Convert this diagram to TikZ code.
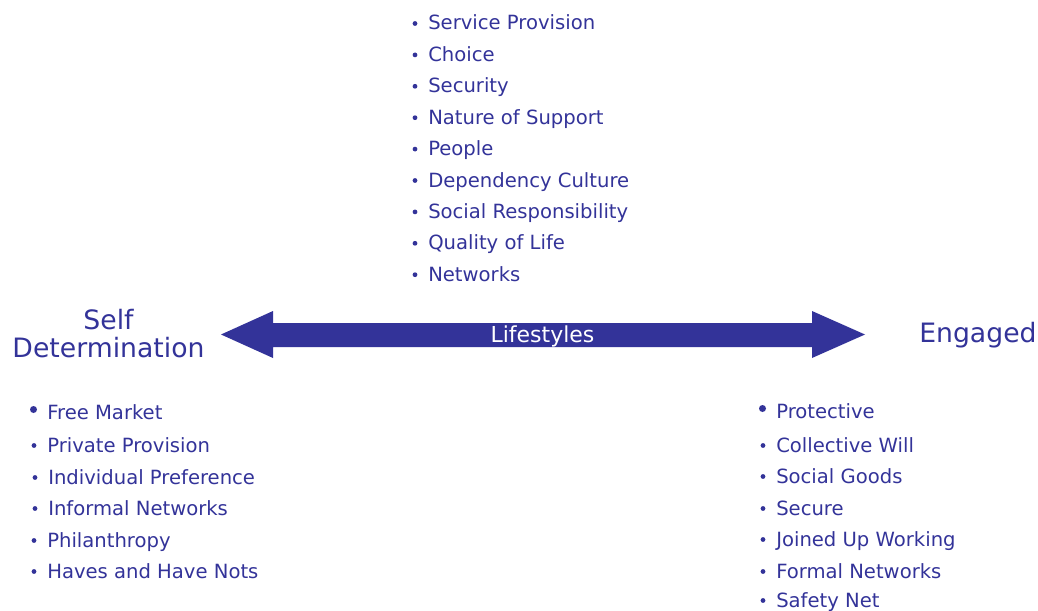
\documentclass[tikz,border=0pt]{standalone}
\usepackage{fontspec}
\setmainfont{DejaVu Sans}
\definecolor{ink}{RGB}{51,51,153}
% one unit = one pixel of a 1038 x 610 canvas, y pointing down
\tikzset{
  every picture/.style={x=0.75pt,y=-0.75pt},
  itemtxt/.style={anchor=base west,inner sep=0pt,text=ink,font=\fontsize{14.7pt}{17pt}\selectfont},
  biglabel/.style={inner sep=0pt,text=ink,font=\fontsize{20pt}{21pt}\selectfont},
  arrowlabel/.style={inner sep=0pt,text=white,font=\fontsize{16.5pt}{18pt}\selectfont},
}
% list entry with small round bullet
\newcommand\lsitem[3]{%
  \node[itemtxt] (#1) at (#2) {#3};
  \fill[ink] (#1.base west) ++(-13,-6.5) circle (2.4);}
% first entry of a lower list, larger bullet set higher
\newcommand\lsfirst[3]{%
  \node[itemtxt] (#1) at (#2) {#3};
  \fill[ink] (#1.base west) ++(-13.5,-9.5) circle (3.5);}
\begin{document}
\begin{tikzpicture}
\useasboundingbox (0,0) rectangle (1038,610);
\clip (0,0) rectangle (1038,610);

% top list
\lsitem{t1}{428,30}{Service Provision}
\lsitem{t2}{428,61.4}{Choice}
\lsitem{t3}{428,92.8}{Security}
\lsitem{t4}{428,124.2}{Nature of Support}
\lsitem{t5}{428,155.6}{People}
\lsitem{t6}{428,187}{Dependency Culture}
\lsitem{t7}{428,218.4}{Social Responsibility}
\lsitem{t8}{428,249.8}{Quality of Life}
\lsitem{t9}{428,281.2}{Networks}

% double headed arrow
\fill[ink] (221,334.5) -- (273,311) -- (273,323) -- (812,323) -- (812,311)
  -- (865,334.5) -- (812,358) -- (812,347) -- (273,347) -- (273,358) -- cycle;
\node[arrowlabel,anchor=base] (life) at (542.5,342) {Lifestyles};

% end labels
\node[biglabel,anchor=base] (self) at (108.5,329) {Self};
\node[biglabel,anchor=base] (det) at (108.5,357) {Determination};
\node[biglabel,anchor=base west] (eng) at (919,342) {Engaged};

% lower left list
\lsfirst{l1}{47,419}{Free Market}
\lsitem{l2}{47,452}{Private Provision}
\lsitem{l3}{48,484}{Individual Preference}
\lsitem{l4}{48,515}{Informal Networks}
\lsitem{l5}{47,547}{Philanthropy}
\lsitem{l6}{47,578}{Haves and Have Nots}

% lower right list
\lsfirst{r1}{776,418}{Protective}
\lsitem{r2}{776,452}{Collective Will}
\lsitem{r3}{776,483}{Social Goods}
\lsitem{r4}{776,515}{Secure}
\lsitem{r5}{776,546}{Joined Up Working}
\lsitem{r6}{776,578}{Formal Networks}
\lsitem{r7}{776,607}{Safety Net}
\end{tikzpicture}
\end{document}
